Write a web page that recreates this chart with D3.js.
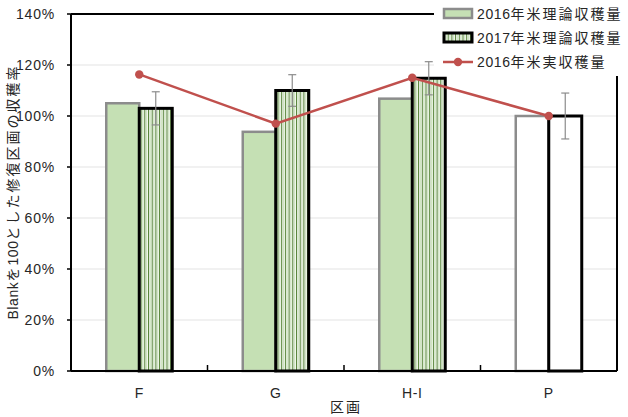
<!DOCTYPE html>
<html><head><meta charset="utf-8">
<script src="https://cdn.jsdelivr.net/npm/d3@7"></script>
<style>body{margin:0;background:#fff}svg{display:block;font-family:"Liberation Sans",Arial,"Noto Sans CJK JP",sans-serif}</style>
</head><body><svg id="c" width="628" height="417"></svg>
<script>
const categories = ["F","G","H-I","P"];
const theory2016 = [105, 93.8, 106.8, 100];
const theory2017 = [103, 110, 114.8, 100];
const err2017 = [6.5, 6.2, 6.5, 9];
const actual2016 = [116.3, 97, 115, 100];
const yTicks = [0,20,40,60,80,100,120,140];
const seriesNames = ["2016年米理論収穫量","2017年米理論収穫量","2016年米実収穫量"];

const svg = d3.select("#c");
const m = {l:71, r:617, t:14, b:371};
const x = d3.scaleBand().domain(categories).range([m.l, m.r]);
const y = d3.scaleLinear().domain([0,140]).range([m.b, m.t]);
const txt = "#262626";

// helper: split text into latin / CJK runs, give CJK extra spacing
function richText(sel, s, cjkSpacing){
  const runs = s.match(/[\u3000-\u9fff\uff00-\uffef]+|[^\u3000-\u9fff\uff00-\uffef]+/g) || [];
  runs.forEach(r=>{
    const isCjk = /[\u3000-\u9fff]/.test(r);
    sel.append("tspan").attr("letter-spacing", isCjk ? cjkSpacing : 0.6).text(r);
  });
}

const defs = svg.append("defs");
const pat = defs.append("pattern").attr("id","stripe").attr("patternUnits","userSpaceOnUse").attr("width",3.7).attr("height",10);
pat.append("rect").attr("width",3.7).attr("height",10).attr("fill","#fff");
pat.append("rect").attr("x",0).attr("width",1.1).attr("height",10).attr("fill","#548235");
pat.append("rect").attr("x",2).attr("width",1).attr("height",10).attr("fill","#c5e0b4");

// grid
svg.append("g").selectAll("line").data(yTicks.filter(d=>d>0&&d<140)).join("line")
  .attr("x1",m.l).attr("x2",m.r).attr("y1",d=>y(d)).attr("y2",d=>y(d))
  .attr("stroke","#e3e3e3").attr("stroke-width",1);

// y labels
svg.append("g").selectAll("text").data(yTicks).join("text")
  .attr("x",55).attr("y",d=>y(d)).attr("dy","0.35em").attr("text-anchor","end")
  .attr("font-size",14).attr("letter-spacing",0.8).attr("fill",txt).text(d=>d+"%");
// y tick marks
svg.append("g").selectAll("line").data(yTicks).join("line")
  .attr("x1",m.l-4).attr("x2",m.l).attr("y1",d=>y(d)).attr("y2",d=>y(d)).attr("stroke","#000").attr("stroke-width",1.5);

const bw = 33;
const cx = d => x(d) + x.bandwidth()/2;

// 2016 bars
svg.append("g").selectAll("rect").data(categories).join("rect")
  .attr("x",d=>cx(d)-bw).attr("width",bw)
  .attr("y",(d,i)=>y(theory2016[i])).attr("height",(d,i)=>m.b-y(theory2016[i]))
  .attr("fill",(d,i)=>d==="P"?"#fff":"#c5e0b4").attr("stroke","#8c8c8c").attr("stroke-width",2.5);
// 2017 bars
svg.append("g").selectAll("rect").data(categories).join("rect")
  .attr("x",d=>cx(d)).attr("width",bw)
  .attr("y",(d,i)=>y(theory2017[i])).attr("height",(d,i)=>m.b-y(theory2017[i]))
  .attr("fill",(d,i)=>d==="P"?"#fff":"url(#stripe)").attr("stroke","#000").attr("stroke-width",3);

// error bars
const eg = svg.append("g").attr("stroke","#8c8c8c").attr("stroke-width",1.2);
categories.forEach((d,i)=>{
  const ex = cx(d)+bw/2;
  const hi = y(theory2017[i]+err2017[i]), lo = y(theory2017[i]-err2017[i]);
  eg.append("line").attr("x1",ex).attr("x2",ex).attr("y1",hi).attr("y2",lo);
  eg.append("line").attr("x1",ex-4).attr("x2",ex+4).attr("y1",hi).attr("y2",hi);
  eg.append("line").attr("x1",ex-4).attr("x2",ex+4).attr("y1",lo).attr("y2",lo);
});

// line
const line = d3.line().x((d,i)=>cx(categories[i])).y(d=>y(d));
svg.append("path").datum(actual2016).attr("d",line).attr("fill","none").attr("stroke","#c0504d").attr("stroke-width",2.5);
svg.append("g").selectAll("circle").data(actual2016).join("circle")
  .attr("cx",(d,i)=>cx(categories[i])).attr("cy",d=>y(d)).attr("r",4.2).attr("fill","#c0504d");

// axes frame
svg.append("line").attr("x1",m.l).attr("x2",m.l).attr("y1",m.t).attr("y2",m.b).attr("stroke","#000").attr("stroke-width",2);
svg.append("line").attr("x1",m.l).attr("x2",m.r).attr("y1",m.b).attr("y2",m.b).attr("stroke","#000").attr("stroke-width",2);
svg.append("line").attr("x1",m.l).attr("x2",m.r).attr("y1",m.t).attr("y2",m.t).attr("stroke","#000").attr("stroke-width",2);
svg.append("line").attr("x1",m.r).attr("x2",m.r).attr("y1",m.t).attr("y2",m.b).attr("stroke","#000").attr("stroke-width",2);
// x ticks between categories
svg.append("g").selectAll("line").data(categories.slice(1)).join("line")
  .attr("x1",d=>x(d)).attr("x2",d=>x(d)).attr("y1",m.b).attr("y2",m.b-6).attr("stroke","#000").attr("stroke-width",1.5);
// x labels
svg.append("g").selectAll("text").data(categories).join("text")
  .attr("x",d=>cx(d)).attr("y",398).attr("text-anchor","middle").attr("font-size",14).attr("letter-spacing",0.6).attr("fill",txt).text(d=>d);

// axis titles
svg.append("text").attr("x",346).attr("y",412).attr("text-anchor","middle").attr("font-size",14).attr("letter-spacing",2).attr("fill",txt).text("区画");
const yt = svg.append("text").attr("transform","translate(13,192) rotate(-90)").attr("dy","0.35em").attr("text-anchor","middle")
  .attr("font-size",14).attr("fill",txt);
richText(yt, "Blankを100とした修復区画の収穫率", 2);

// legend
const lg = svg.append("g");
lg.append("rect").attr("x",434).attr("y",0).attr("width",194).attr("height",76).attr("fill","#fff");
const ly = [14, 38, 62];
lg.append("rect").attr("x",444).attr("y",ly[0]-5).attr("width",28).attr("height",9).attr("fill","#c5e0b4").attr("stroke","#8c8c8c").attr("stroke-width",2.5);
lg.append("rect").attr("x",444).attr("y",ly[1]-5).attr("width",28).attr("height",9).attr("fill","url(#stripe)").attr("stroke","#000").attr("stroke-width",3);
lg.append("line").attr("x1",443).attr("x2",473).attr("y1",ly[2]).attr("y2",ly[2]).attr("stroke","#c0504d").attr("stroke-width",2.5);
lg.append("circle").attr("cx",458).attr("cy",ly[2]).attr("r",4.2).attr("fill","#c0504d");
seriesNames.forEach((s,i)=>{
  const t = lg.append("text").attr("x",477).attr("y",ly[i]).attr("dy","0.35em").attr("font-size",14).attr("fill",txt);
  richText(t, s, 2);
});
</script></body></html>
